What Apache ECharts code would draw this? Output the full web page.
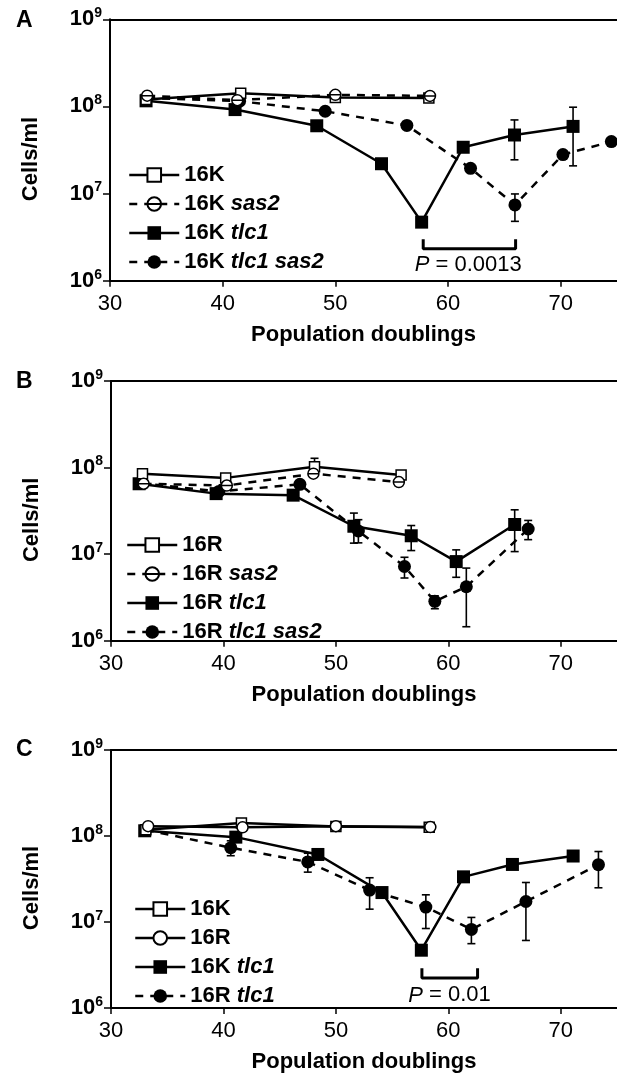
<!DOCTYPE html>
<html>
<head>
<meta charset="utf-8">
<script src="https://cdn.jsdelivr.net/npm/echarts@6/dist/echarts.min.js"></script>
<style>
body { margin: 0; background: #fff; }
.panel { width: 617px; }
</style>
</head>
<body>
<div id="chart_a" class="panel" style="height:360px"></div>
<div id="chart_b" class="panel" style="height:360px"></div>
<div id="chart_c" class="panel" style="height:358px"></div>
<script>
/* 细胞密度 vs 群体倍增 (三幅 log 曲线图) */

// x 轴刻度
var xTicks = [30, 40, 50, 60, 70];

// A: 16K
var a_16K = [[33.2, 1.2e8], [41.6, 1.42e8], [50.0, 1.27e8], [58.3, 1.25e8]];
var a_16K_sas2 = [[33.3, 1.33e8], [41.3, 1.18e8], [50.0, 1.36e8], [58.4, 1.32e8]];
var a_16K_tlc1 = [[33.2, 1.16e8], [41.1, 9.2e7], [48.35, 6.0e7], [54.1, 2.2e7], [57.66, 4.7e6], [61.35, 3.4e7], [65.9, 4.7e7], [71.1, 5.9e7]];
var a_16K_tlc1_sas2 = [[33.3, 1.25e8], [41.5, 1.15e8], [49.1, 8.8e7], [56.35, 6.05e7], [62.0, 1.95e7], [65.94, 7.4e6], [70.2, 2.8e7], [74.5, 3.95e7]];
var a_err_tlc1 = [[65.9, 2.44e7, 7.0e7], [71.1, 2.08e7, 9.8e7]];
var a_err_tlc1_sas2 = [[65.94, 4.8e6, 9.9e6]];
var a_bracket = [[57.8, 3.0e6], [57.8, 2.32e6], [66.0, 2.32e6], [66.0, 3.0e6]];
var a_pLabel = [[61.8, 1.52e6, 'P = 0.0013']];

// B: 16R
var b_16R = [[32.8, 8.5e7], [40.2, 7.6e7], [48.1, 1.02e8], [55.8, 8.2e7]];
var b_16R_sas2 = [[32.9, 6.5e7], [40.3, 6.2e7], [48.0, 8.5e7], [55.6, 6.8e7]];
var b_16R_tlc1 = [[32.5, 6.5e7], [39.35, 5.0e7], [46.2, 4.8e7], [51.6, 2.1e7], [56.7, 1.63e7], [60.7, 8.2e6], [65.9, 2.2e7]];
var b_16R_tlc1_sas2 = [[32.6, 6.6e7], [39.6, 5.3e7], [46.8, 6.4e7], [52.0, 1.85e7], [56.1, 7.2e6], [58.8, 2.85e6], [61.6, 4.2e6], [67.1, 1.95e7]];
var b_err_16R = [[48.1, 8.4e7, 1.28e8]];
var b_err_tlc1 = [[51.6, 1.34e7, 2.98e7], [56.7, 1.1e7, 2.14e7], [60.7, 5.4e6, 1.12e7], [65.9, 1.07e7, 3.25e7]];
var b_err_tlc1_sas2 = [[52.0, 1.35e7, 2.5e7], [56.1, 5.3e6, 9.2e6], [58.8, 2.34e6, 3.3e6], [61.6, 1.45e6, 6.9e6], [67.1, 1.47e7, 2.45e7]];

// C: 16K vs 16R
var c_16K = [[33.1, 1.18e8], [41.6, 1.42e8], [50.0, 1.29e8], [58.3, 1.26e8]];
var c_16R = [[33.3, 1.3e8], [41.7, 1.26e8], [50.0, 1.3e8], [58.4, 1.27e8]];
var c_16K_tlc1 = [[33.0, 1.15e8], [41.1, 9.7e7], [48.4, 6.1e7], [54.1, 2.2e7], [57.6, 4.7e6], [61.35, 3.35e7], [65.7, 4.67e7], [71.1, 5.85e7]];
var c_16R_tlc1 = [[33.1, 1.18e8], [40.65, 7.3e7], [47.5, 5.0e7], [53.0, 2.35e7], [58.0, 1.49e7], [62.05, 8.2e6], [66.9, 1.73e7], [73.35, 4.64e7]];
var c_err_16R_tlc1 = [[40.65, 5.9e7, 8.8e7], [47.5, 3.8e7, 6.3e7], [53.0, 1.41e7, 3.27e7], [58.0, 8.4e6, 2.07e7], [62.05, 5.6e6, 1.13e7], [66.9, 6.1e6, 2.88e7], [73.35, 2.5e7, 6.6e7]];
var c_bracket = [[57.65, 2.9e6], [57.65, 2.23e6], [62.6, 2.23e6], [62.6, 2.9e6]];
var c_pLabel = [[60.1, 1.4e6, 'P = 0.01']];

var FONT = '"Liberation Sans", Arial, Helvetica, sans-serif';
var THETA = 'path://M1,11A10,10,0,1,1,21,11A10,10,0,1,1,1,11ZM1,11L21,11';

// 标记样式
var MARK = {
	openSquare: { symbol: 'rect', size: 10, hollow: true },
	openCircle: { symbol: 'circle', size: 11, hollow: true },
	theta: { symbol: THETA, size: 11, hollow: true },
	square: { symbol: 'rect', size: 13, hollow: false },
	dot: { symbol: 'circle', size: 13, hollow: false }
};

$ready(function(){
	loadChartsVar();
});

function $ready(fn){
	if (document.readyState !== 'loading') fn();
	else document.addEventListener('DOMContentLoaded', fn);
}

function loadChartsVar(){
	load_panel_a();
	load_panel_b();
	load_panel_c();
}

function load_panel_a(){
	var chart = echarts.init(document.getElementById('chart_a'));
	var series = [
		errorSeries(a_err_tlc1),
		errorSeries(a_err_tlc1_sas2),
		lineSeries('16K', a_16K, MARK.openSquare, false),
		lineSeries('16K sas2', a_16K_sas2, MARK.theta, true),
		lineSeries('16K tlc1', a_16K_tlc1, MARK.square, false),
		lineSeries('16K tlc1 sas2', a_16K_tlc1_sas2, MARK.dot, true),
		bracketSeries(a_bracket),
		pLabelSeries(a_pLabel)
	];
	chart.setOption(getPanelOptions({
		letter: 'A', letterY: 21,
		grid: { left: 110, top: 19.3, height: 261.4 },
		legend: { left: 123, top: 159, names: ['16K', '16K sas2', '16K tlc1', '16K tlc1 sas2'] },
		series: series
	}));
}

function load_panel_b(){
	var chart = echarts.init(document.getElementById('chart_b'));
	var series = [
		errorSeries(b_err_16R),
		errorSeries(b_err_tlc1),
		errorSeries(b_err_tlc1_sas2),
		lineSeries('16R', b_16R, MARK.openSquare, false),
		lineSeries('16R sas2', b_16R_sas2, MARK.theta, true),
		lineSeries('16R tlc1', b_16R_tlc1, MARK.square, false),
		lineSeries('16R tlc1 sas2', b_16R_tlc1_sas2, MARK.dot, true)
	];
	chart.setOption(getPanelOptions({
		letter: 'B', letterY: 22,
		grid: { left: 111, top: 21, height: 259.7 },
		legend: { left: 121, top: 169, names: ['16R', '16R sas2', '16R tlc1', '16R tlc1 sas2'] },
		series: series
	}));
}

function load_panel_c(){
	var chart = echarts.init(document.getElementById('chart_c'));
	var series = [
		errorSeries(c_err_16R_tlc1),
		lineSeries('16K', c_16K, MARK.openSquare, false),
		lineSeries('16R', c_16R, MARK.openCircle, false),
		lineSeries('16K tlc1', c_16K_tlc1, MARK.square, false),
		lineSeries('16R tlc1', c_16R_tlc1, MARK.dot, true),
		bracketSeries(c_bracket),
		pLabelSeries(c_pLabel)
	];
	chart.setOption(getPanelOptions({
		letter: 'C', letterY: 30,
		grid: { left: 111, top: 30, height: 261 },
		legend: { left: 129, top: 173, names: ['16K', '16R', '16K tlc1', '16R tlc1'] },
		series: series
	}));
}

/**
 * 折线 + 标记
 */
function lineSeries(name, data, mark, dashed){
	return {
		name: name,
		type: 'line',
		data: data,
		symbol: mark.symbol,
		symbolSize: mark.size,
		z: mark.hollow ? 4 : 3,
		lineStyle: { color: '#000', width: 2.5, type: dashed ? [8, 7] : 'solid' },
		itemStyle: mark.hollow
			? { color: '#fff', borderColor: '#000', borderWidth: 1.5 }
			: { color: '#000', borderWidth: 0 },
		emphasis: { disabled: true },
		animation: false
	};
}

/**
 * 误差棒 (custom)
 */
function errorSeries(data){
	return {
		type: 'custom',
		data: data,
		encode: { x: 0, y: [1, 2] },
		z: 2,
		silent: true,
		animation: false,
		renderItem: function(params, api){
			var x = api.value(0);
			var lo = api.coord([x, api.value(1)]);
			var hi = api.coord([x, api.value(2)]);
			var cap = 4;
			var st = { stroke: '#000', lineWidth: 1.6 };
			return {
				type: 'group',
				children: [
					{ type: 'line', shape: { x1: lo[0], y1: lo[1], x2: hi[0], y2: hi[1] }, style: st },
					{ type: 'line', shape: { x1: lo[0] - cap, y1: lo[1], x2: lo[0] + cap, y2: lo[1] }, style: st },
					{ type: 'line', shape: { x1: hi[0] - cap, y1: hi[1], x2: hi[0] + cap, y2: hi[1] }, style: st }
				]
			};
		}
	};
}

function bracketSeries(data){
	return {
		type: 'line',
		data: data,
		symbol: 'none',
		silent: true,
		animation: false,
		lineStyle: { color: '#000', width: 3 },
		z: 3
	};
}

function pLabelSeries(data){
	return {
		type: 'scatter',
		data: data,
		symbolSize: 0,
		silent: true,
		animation: false,
		itemStyle: { opacity: 1, color: '#000' },
		label: {
			show: true,
			position: 'inside',
			color: '#000',
			opacity: 1,
			fontFamily: FONT,
			fontSize: 22,
			formatter: function(p){
				return '{i|P}{r|' + p.value[2].slice(1) + '}';
			},
			rich: {
				i: { fontFamily: FONT, fontSize: 22, fontStyle: 'italic', color: '#000' },
				r: { fontFamily: FONT, fontSize: 22, color: '#000' }
			}
		}
	};
}

function legendFormatter(name){
	var i = name.indexOf(' ');
	if (i < 0) return '{n|' + name + '}';
	return '{n|' + name.slice(0, i) + '} {i|' + name.slice(i + 1) + '}';
}

/**
 * 获取单幅图参数
 */
function getPanelOptions(cfg){
	var axisLine = { show: true, lineStyle: { color: '#000', width: 2 } };
	return {
		backgroundColor: '#fff',
		animation: false,
		textStyle: { fontFamily: FONT },
		graphic: [{
			type: 'text',
			x: 16,
			y: cfg.letterY,
			style: { text: cfg.letter, font: 'bold 23px ' + FONT, fill: '#000', verticalAlign: 'middle' }
		}],
		grid: { left: cfg.grid.left, top: cfg.grid.top, height: cfg.grid.height, right: 0 },
		legend: {
			orient: 'vertical',
			left: cfg.legend.left,
			top: cfg.legend.top,
			itemWidth: 50,
			itemHeight: 17,
			itemGap: 7,
			selectedMode: false,
			data: cfg.legend.names,
			formatter: legendFormatter,
			lineStyle: { width: 2.5 },
			textStyle: {
				fontFamily: FONT, fontSize: 22, fontWeight: 'bold', color: '#000', lineHeight: 22,
				rich: {
					n: { fontFamily: FONT, fontSize: 22, fontWeight: 'bold', color: '#000', lineHeight: 22 },
					i: { fontFamily: FONT, fontSize: 22, fontWeight: 'bold', fontStyle: 'italic', color: '#000', lineHeight: 22 }
				}
			}
		},
		xAxis: [{
			type: 'value',
			min: 30,
			max: 75,
			interval: 10,
			name: 'Population doublings',
			nameLocation: 'middle',
			nameGap: 43,
			nameTextStyle: { fontFamily: FONT, fontSize: 22, fontWeight: 'bold', color: '#000' },
			axisLine: axisLine,
			axisTick: { show: true, length: 6, customValues: xTicks, lineStyle: { color: '#000', width: 1.5 } },
			axisLabel: { customValues: xTicks, margin: 12, fontFamily: FONT, fontSize: 22, color: '#000' },
			splitLine: { show: false }
		}, {
			type: 'value',
			position: 'top',
			min: 30,
			max: 75,
			axisLine: axisLine,
			axisTick: { show: false },
			axisLabel: { show: false },
			splitLine: { show: false }
		}],
		yAxis: {
			type: 'log',
			logBase: 10,
			min: 1e6,
			max: 1e9,
			name: 'Cells/ml',
			nameLocation: 'middle',
			nameGap: 68,
			nameTextStyle: { fontFamily: FONT, fontSize: 22, fontWeight: 'bold', color: '#000', padding: [0, 18, 0, 0] },
			axisLine: axisLine,
			axisTick: { show: true, length: 7, lineStyle: { color: '#000', width: 1.5 } },
			minorTick: { show: false },
			axisLabel: {
				margin: 8,
				formatter: function(v){
					return '{b|10}{s|' + Math.round(Math.log(v) / Math.LN10) + '}';
				},
				rich: {
					b: { fontFamily: FONT, fontSize: 22, fontWeight: 'bold', color: '#000' },
					s: { fontFamily: FONT, fontSize: 14, fontWeight: 'bold', color: '#000', padding: [0, 0, 12, 0] }
				}
			},
			splitLine: { show: false }
		},
		series: cfg.series
	};
}
</script>
</body>
</html>
